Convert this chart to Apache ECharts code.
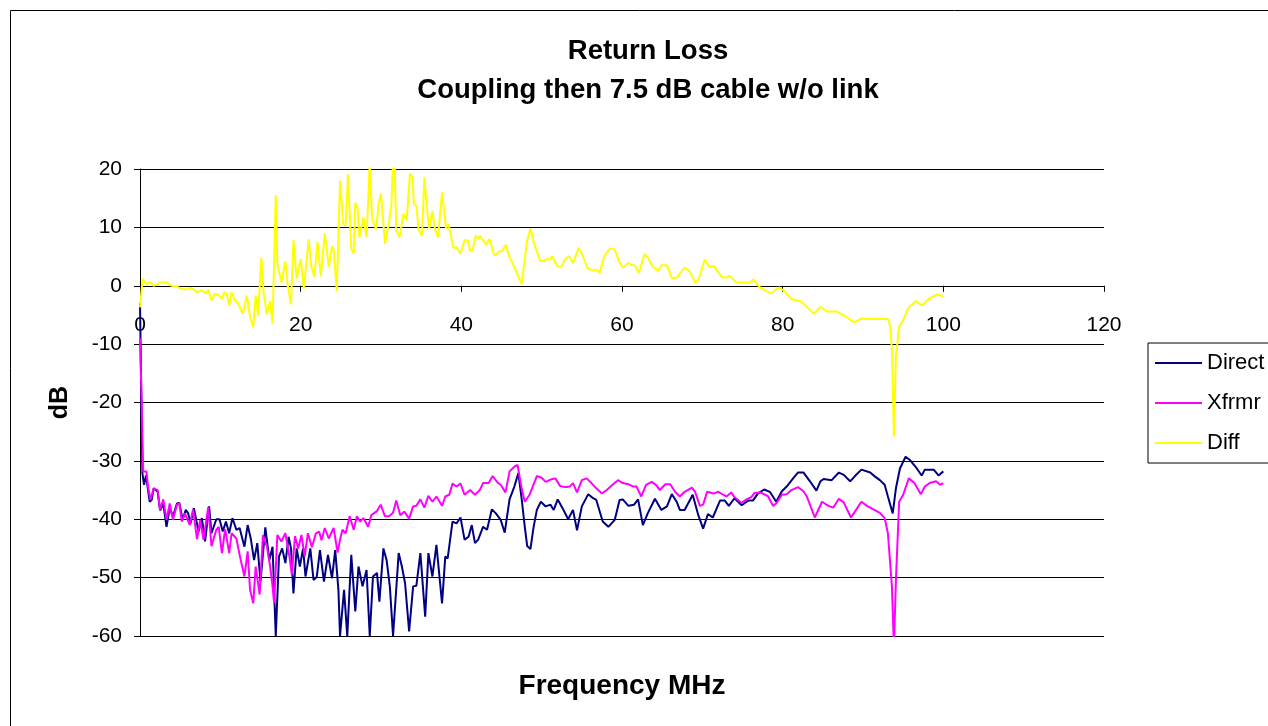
<!DOCTYPE html>
<html>
<head>
<meta charset="utf-8">
<script src="https://cdn.jsdelivr.net/npm/echarts@6/dist/echarts.min.js"></script>
<style>html,body{margin:0;padding:0;background:#fff}#c{width:1268px;height:726px}</style>
</head>
<body>
<div id="c"></div>
<script>
const titleLines = ['Return Loss', 'Coupling then 7.5 dB cable w/o link'];
const xName = 'Frequency MHz';
const yName = 'dB';
const seriesNames = ['Direct', 'Xfrmr', 'Diff'];

const directFreq = [0,0.3,0.5,0.75,1.2,1.45,1.7,2.2,2.5,2.9,3.3,3.7,4.1,4.6,4.9,5.3,5.7,6,6.3,6.7,7.3,7.7,8.1,8.6,8.9,9.5,9.9,10.3,10.7,11.1,11.5,12,12.4,13,13.4,13.8,14.2,14.6,15,15.6,16.1,16.5,16.9,17.3,17.7,18.1,18.5,18.8,19.1,19.5,19.9,20.3,20.6,21.2,21.6,22,22.4,22.9,23.4,23.9,24.3,24.7,24.9,25.4,25.8,26.3,26.8,27.2,27.7,28.2,28.6,29,29.5,29.8,30.3,30.7,31.1,31.5,32.2,32.6,33,33.5,34,34.4,34.9,35.5,35.9,36.4,36.9,37.6,38,38.3,38.9,39.4,39.9,40.4,40.9,41.3,41.7,42.1,42.7,43.2,43.8,44.3,44.9,45.4,46,46.6,47.1,47.5,47.9,48.2,48.6,49,49.4,49.9,50.5,51.1,51.5,52,52.6,53.3,53.9,54.4,55,55.8,56.4,56.8,57.6,58.3,59.1,59.7,60.1,60.8,61.5,62,62.6,63.2,64.1,64.9,65.6,66.2,66.8,67.2,67.8,68.8,69.5,70.1,70.7,71.3,72.2,72.8,73.3,74,74.9,75.7,76.3,76.9,77.7,78.4,79.2,79.9,80.5,81.3,81.9,82.6,83.4,84.2,84.7,85.1,86.1,87,87.6,88.4,89,89.8,90.9,91.5,92.1,92.7,93.1,93.7,94.1,94.6,95.3,95.8,96.7,97.3,97.7,98.8,99.4,100];
const directDb = [-3,-32.1,-34.1,-32.5,-37,-36.7,-34.7,-35.3,-38.5,-37.3,-41.3,-38.1,-39.5,-37.3,-37.2,-40.1,-38.4,-39,-40.7,-38.1,-42.1,-39.8,-43.8,-37.8,-42.4,-40,-40,-42.1,-40.4,-42.4,-39.8,-41.8,-41.5,-44.7,-41,-43.4,-47,-44.1,-50.7,-41.4,-47,-44.7,-60,-46.4,-45,-47.5,-43,-45,-52.7,-45,-48.1,-45,-49.8,-45,-50.4,-49.9,-45.3,-50.7,-46.1,-50.1,-45.3,-52.1,-60,-52.1,-60,-46.1,-55.8,-48.1,-51.5,-48.7,-60,-49.8,-49.2,-54.1,-45,-47,-51.5,-60,-45.8,-48.1,-51,-59.2,-51.5,-51.4,-45.8,-56.7,-45.8,-49.8,-44.4,-54.4,-46.4,-46.7,-40.4,-40.7,-39.7,-43.5,-43,-41,-44.1,-43.5,-41.3,-41.8,-38.3,-39,-40.1,-42.3,-36.6,-34.4,-32.1,-36.4,-41.3,-44.6,-45.1,-41.3,-38.4,-37,-37.8,-37.5,-38.4,-36.6,-38.1,-40,-38.4,-41.9,-37.8,-35.7,-36.4,-36.7,-40.4,-41.3,-40.1,-36.7,-36.6,-37.7,-37.5,-36.6,-41,-39,-36.5,-38.4,-37.8,-35.7,-37,-38.4,-38.4,-35.8,-39.3,-41.6,-39.1,-39.7,-36.8,-36.8,-37.7,-36.4,-37.6,-36.8,-36.8,-35.6,-34.9,-35.3,-37,-35.2,-34.4,-33,-32,-32,-33.5,-35.1,-33.5,-33.1,-33.3,-32,-32.4,-33.5,-32.6,-31.5,-32,-32.7,-33.3,-34.1,-36.1,-39,-34.7,-31.3,-29.3,-29.8,-31.3,-32.5,-31.5,-31.5,-32.5,-31.8];

const xfrmrFreq = [0,0.2,0.4,0.6,0.8,1,1.3,1.7,2.2,2.5,2.9,3.3,3.7,4.1,4.6,4.9,5.2,5.6,6.2,6.6,7.1,7.5,7.9,8.5,8.9,9.5,9.8,10.2,10.6,11.1,11.4,12,12.4,13,13.4,13.7,14.1,14.4,14.9,15.3,15.8,16.2,16.5,16.7,17.1,17.6,18.1,18.6,18.9,19.3,19.7,20.1,20.5,20.9,21.4,21.9,22.3,22.6,23,23.5,24.1,24.6,24.9,25.2,25.6,26.1,26.6,27,27.4,27.8,28.4,28.8,29.5,29.96,30.5,31,31.5,31.9,32.4,32.9,33.5,34,34.4,34.9,35.4,35.9,36.4,36.9,37.6,38,38.5,38.9,39.4,39.9,40.4,41.1,41.7,42.3,42.7,43.4,43.9,44.5,44.9,45.5,46,46.6,47,47.5,47.9,48.5,49.4,50,50.5,51.1,51.7,52.3,52.9,53.5,53.9,54.4,55,55.6,56.2,56.8,57.5,58.1,58.9,59.5,60.1,60.8,61.4,61.8,62.4,63,63.7,64.3,64.7,65.4,66,66.6,67.2,67.8,68.7,69.1,69.7,70.1,70.6,71.4,72,72.6,73,73.6,74,74.9,75.5,76.1,76.5,77.2,77.8,78.2,78.8,79.2,79.9,80.5,81.1,81.9,82.6,83,83.4,84,84.9,85.7,86.3,87,87.6,88.5,89,89.8,90.5,91.3,92.1,92.7,93.1,93.6,93.85,94.1,94.5,95,95.7,96.4,97.2,97.7,98.3,99.1,99.6,100];
const xfrmrDb = [-9,-19.6,-31.8,-32.1,-31.8,-34.4,-36.7,-34.7,-35,-38.4,-36.6,-40.1,-37.3,-40.1,-37.5,-37.3,-40.4,-39,-41,-38.3,-43.4,-40.1,-43.5,-37.9,-44.6,-41.8,-41.3,-45.8,-41.7,-45.8,-42.4,-43.3,-46.1,-49.8,-45.5,-52.1,-54.4,-48.1,-52.9,-42.7,-44.7,-48.1,-51.5,-54.4,-42.7,-43.8,-42.4,-46.4,-49.5,-42.9,-45,-42.7,-46.4,-42.4,-44.8,-42.4,-42.1,-43.6,-41.5,-43.3,-41.5,-45.7,-43.5,-41.8,-42.4,-39.5,-41.8,-39.5,-40.4,-39.8,-41.3,-39.3,-38.6,-37.5,-39.5,-39.5,-38.9,-36.8,-39.3,-38.7,-39.9,-37.8,-37.7,-36.6,-38,-36,-37,-36.1,-37.7,-36.1,-35.8,-33.9,-34.4,-33.9,-35.8,-35,-35.8,-35,-33.8,-33.8,-32.6,-33.7,-34.1,-35.4,-31.8,-31,-30.7,-34.7,-37,-35.8,-32.6,-32.9,-33.6,-33.2,-33,-34.3,-34.5,-34.4,-33.8,-35.4,-33.3,-33,-33.8,-34.7,-35.6,-35,-34,-33.3,-33.8,-34,-34.4,-34.4,-36.1,-34.1,-33.6,-34.2,-35,-34,-34,-35.3,-36.1,-35.3,-34.6,-35.3,-37.7,-37.5,-35.3,-35.6,-35.3,-35.8,-36.1,-35.4,-36.2,-37.2,-36.6,-36.2,-35.5,-35.4,-35.8,-36.1,-37.7,-37.3,-35.8,-35.7,-35,-34.5,-35.2,-36.1,-37.5,-39.7,-37,-37.7,-38,-36.5,-37.1,-39.7,-38.7,-37,-37.7,-38.3,-38.9,-39.8,-42.4,-51.5,-62,-50.4,-37,-35.8,-33,-33.8,-35.7,-34.4,-33.8,-33.5,-34.1,-33.8];

const diffFreq = [0,0.33,0.8,1.3,1.7,2.5,3.3,3.9,4.6,5.2,5.8,6.4,7.1,7.7,8.1,8.5,8.9,9.3,9.7,10.2,10.5,10.8,11.1,11.4,11.8,12.2,12.8,13.3,13.7,14.1,14.4,14.7,15.1,15.4,15.8,16.2,16.5,16.7,16.9,17.1,17.6,17.8,18.1,18.4,18.8,19.1,19.5,20,20.4,21,21.3,21.7,22.1,22.5,23,23.5,23.9,24.1,24.5,24.9,25.3,25.6,25.9,26.3,26.6,26.8,27.1,27.3,27.5,27.8,28.2,28.6,28.9,29.4,29.7,30,30.5,30.7,31,31.3,31.5,31.7,31.9,32.3,32.8,33.2,33.4,33.6,33.9,34.1,34.4,34.7,35.1,35.4,35.7,36,36.4,36.7,37.1,37.6,38.1,38.4,38.6,39,39.4,39.9,40.4,40.8,41.1,41.4,41.8,42.1,42.3,43.1,43.5,44.1,44.8,45.1,45.5,46,46.6,47.5,48.2,48.6,49,49.8,50.3,50.6,51.1,51.3,52,52.5,52.9,53.4,53.9,54.6,55,55.7,56.4,56.8,57.2,57.8,58.5,59.1,59.6,60.1,60.8,61.2,61.6,62.1,62.8,63.3,63.8,64.5,64.9,65.6,66.2,66.8,67.8,68.4,69.1,69.5,70.3,70.9,71.4,72.5,73,73.4,74.2,75.9,76.4,77.1,77.8,78.6,79.2,79.6,80.1,81.1,82.2,83,83.9,84.7,85.5,86.7,87.8,88.8,89.2,89.8,90.5,93.1,93.4,93.6,93.85,94.1,94.5,95,95.6,96.6,97.2,97.5,97.9,98.5,99.2,99.6,100];
const diffDb = [-3.7,1.2,0.3,0.6,0,0.5,0.6,0,-0.1,-0.6,-0.6,-0.4,-1.1,-0.8,-1.3,-0.7,-2.5,-1.4,-1.5,-2.2,-1.1,-1.4,-3.3,-1.1,-2.5,-3,-4.8,-1.7,-5.3,-7.1,-1.7,-5.1,4.8,-1.4,-4.9,-2.6,-6.5,-6.2,15.5,3.8,0.6,0.9,4.2,0,-3.2,7.8,1.2,4.6,-0.5,8,3.5,1.5,7.5,1.6,9,3.2,6.7,6.3,-0.9,18,10.6,10.3,19.1,6.3,5.5,14.2,13.2,8.3,8.2,11.7,8.3,21,11.5,9.6,14,15.8,7.2,7.1,10.9,14,22,21,9.5,8.3,12.3,11.2,11.2,19.2,18.6,14,13.7,9.5,8.6,18.6,13.5,9.8,12.8,9.8,8.3,16,9.8,10.6,10.5,6.5,6.6,5.5,7.8,7.8,6,6.1,8.6,8,8.6,7,8,5.2,5.9,5.9,7,4.9,3.2,0.3,7.8,9.8,7.5,4.3,4.2,4.6,4.5,5.1,3.2,3.4,4.5,5.1,3.9,6.5,5.5,3,2.6,2.8,2.2,5.1,6.4,6.2,4.3,3.1,3.9,3.5,3.5,2.2,5.4,4.7,3.3,2.6,3.5,3.5,1.3,1.4,3.1,2.5,0.6,0.9,4.5,3.2,3.4,1.4,1.4,1.7,0.6,0.5,1.1,-0.2,-0.8,-1.3,-0.6,-0.3,-0.8,-2.3,-2.6,-3.6,-4.8,-3.6,-4.4,-4.4,-5.2,-6.2,-6.1,-5.6,-5.7,-5.7,-7,-11,-25.8,-12.1,-7,-5.9,-3.9,-2.6,-3.3,-3.2,-2.6,-2,-1.5,-1.6,-1.9];

function zip(xs, ys) { return xs.map((x, i) => [x, ys[i]]); }

const FONT = '"Liberation Sans", Arial, sans-serif';
const chart = echarts.init(document.getElementById('c'), null, { renderer: 'canvas' });
chart.setOption({
  animation: false,
  backgroundColor: '#fff',
  textStyle: { fontFamily: FONT },
  graphic: [
    { type: 'rect', shape: { x: 10.5, y: 10.5, width: 1400, height: 900 }, style: { fill: 'none', stroke: '#000', lineWidth: 1 }, silent: true, z: -10 },
    { type: 'text', x: 648, y: 51, style: { text: titleLines[0], fontFamily: FONT, fontSize: 27.5, fontWeight: 'bold', fill: '#000', align: 'center', verticalAlign: 'middle' } },
    { type: 'text', x: 648, y: 90, style: { text: titleLines[1], fontFamily: FONT, fontSize: 27.5, fontWeight: 'bold', fill: '#000', align: 'center', verticalAlign: 'middle' } }
  ],
  legend: {
    data: seriesNames,
    orient: 'vertical',
    left: 1148, top: 343,
    padding: [9, 80, 9, 7],
    borderColor: '#000', borderWidth: 1,
    icon: 'rect', itemWidth: 47, itemHeight: 2,
    itemGap: 18,
    textStyle: { fontFamily: FONT, fontSize: 22, color: '#000', lineHeight: 22 }
  },
  grid: { left: 140, right: 164, top: 169, bottom: 90, containLabel: false, outerBoundsMode: 'none' },
  xAxis: {
    type: 'value', min: 0, max: 120, interval: 20,
    name: xName, nameLocation: 'middle', nameGap: 36,
    nameTextStyle: { fontFamily: FONT, fontSize: 28, fontWeight: 'bold', color: '#000' },
    axisLine: { onZero: true, lineStyle: { color: '#000', width: 1 } },
    axisTick: { show: true, length: 6, lineStyle: { color: '#000' } },
    axisLabel: { fontFamily: FONT, fontSize: 21, color: '#000', margin: -321 },
    splitLine: { show: false }
  },
  yAxis: {
    type: 'value', min: -60, max: 20, interval: 10,
    name: yName, nameLocation: 'middle', nameGap: 67, nameRotate: 90,
    nameTextStyle: { fontFamily: FONT, fontSize: 25, fontWeight: 'bold', color: '#000' },
    axisLine: { show: true, lineStyle: { color: '#000', width: 1 } },
    axisTick: { show: true, length: 6, lineStyle: { color: '#000' } },
    axisLabel: { fontFamily: FONT, fontSize: 21, color: '#000', margin: 18 },
    splitLine: { show: true, lineStyle: { color: '#000', width: 1 } }
  },
  series: [
    { name: seriesNames[0], type: 'line', data: zip(directFreq, directDb), showSymbol: false, symbol: 'none', lineStyle: { color: '#000080', width: 2 }, itemStyle: { color: '#000080' }, clip: true },
    { name: seriesNames[1], type: 'line', data: zip(xfrmrFreq, xfrmrDb), showSymbol: false, symbol: 'none', lineStyle: { color: '#FF00FF', width: 2 }, itemStyle: { color: '#FF00FF' }, clip: true },
    { name: seriesNames[2], type: 'line', data: zip(diffFreq, diffDb), showSymbol: false, symbol: 'none', lineStyle: { color: '#FFFF00', width: 2 }, itemStyle: { color: '#FFFF00' }, clip: true }
  ]
});
</script>
</body>
</html>
